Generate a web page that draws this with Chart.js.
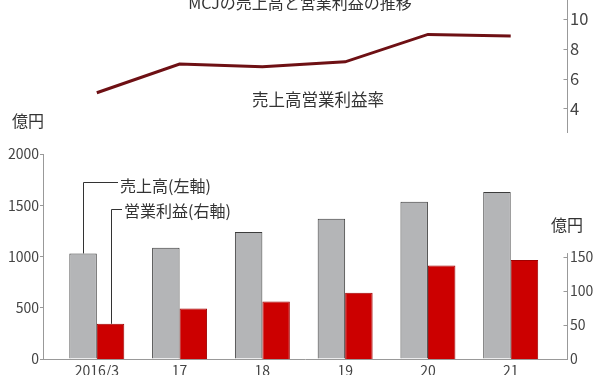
<!DOCTYPE html>
<html lang="ja">
<head>
<meta charset="utf-8">
<script src="https://cdn.jsdelivr.net/npm/chart.js@4.4.1/dist/chart.umd.min.js"></script>
<style>
  html, body { margin: 0; padding: 0; background: #fff; }
  #wrap { position: relative; width: 600px; height: 375px; overflow: hidden;
          font-family: "Noto Sans CJK JP", "Noto Sans", sans-serif; color: #333; }
  canvas { position: absolute; left: 0; top: 0; }
  .lbl { position: absolute; white-space: nowrap; font-size: 16px; line-height: 16px; }
</style>
</head>
<body>
<div id="wrap">
  <canvas id="barChart" width="600" height="375"></canvas>
  <canvas id="rateChart" width="600" height="140"></canvas>
  <div class="lbl" style="left:0; width:600px; text-align:center; top:-6px">MCJの売上高と営業利益の推移</div>
  <div class="lbl" style="left:252px; top:91px; font-size:16.5px">売上高営業利益率</div>
  <div class="lbl" style="left:12px; top:112px">億円</div>
  <div class="lbl" style="left:551px; top:216px">億円</div>
  <div class="lbl" style="left:120px; top:177px">売上高(左軸)</div>
  <div class="lbl" style="left:124px; top:202px">営業利益(右軸)</div>
</div>

<script>
// ===== data =====
const years = ["2016/3", "17", "18", "19", "20", "21"];
const sales = [1030, 1085, 1238, 1368, 1534, 1629];     // 売上高 (億円, left axis)
const profit = [51.5, 74, 84, 97, 137, 145];             // 営業利益 (億円, right axis)
const margin = [5.05, 6.98, 6.8, 7.13, 8.97, 8.86];      // 売上高営業利益率 (%)
const salesTicks = [0, 500, 1000, 1500, 2000];
const profitTicks = [0, 50, 100, 150];
const marginTicks = [4, 6, 8, 10];

const FAMILY = '"Noto Sans CJK JP", "Noto Sans", sans-serif';
const FONT = { family: FAMILY, size: 14 };
const TXT = "#444";
const AXIS = "#999";

const xy = (arr) => arr.map((v, i) => ({ x: i, y: v }));
const fixTicks = (list) => (s) => { s.ticks = list.map((v) => ({ value: v })); };
const plain = (v) => String(v);
// keep the plot area exactly where layout padding puts it
const fitWidth = (w) => (s) => { s.width = w; s.paddingTop = 0; s.paddingBottom = 0; };

// shared x scale so both charts line up
function xScale(show) {
  return {
    type: "linear",
    offset: false,
    min: -0.65,
    max: 5.68,
    display: show,
    afterBuildTicks: fixTicks(years.map((_, i) => i)),
    ticks: { callback: (v) => years[v], color: TXT, font: FONT, padding: 3, maxRotation: 0, autoSkip: false },
    grid: { display: false, drawTicks: false },
    border: { color: AXIS },
    afterFit: (s) => { s.height = show ? 16 : 0; }
  };
}

// right-hand axes: tick marks point inward, line may stop short of the top
function innerAxis(scaleId, from, to) {
  return {
    id: "innerAxis_" + scaleId,
    afterDraw(chart) {
      const s = chart.scales[scaleId];
      const ctx = chart.ctx;
      const x = s.left + 0.5;
      ctx.save();
      ctx.strokeStyle = AXIS;
      ctx.lineWidth = 1;
      ctx.beginPath();
      ctx.moveTo(x, s.getPixelForValue(from));
      ctx.lineTo(x, s.getPixelForValue(to));
      s.ticks.forEach((t) => {
        const y = Math.round(s.getPixelForValue(t.value)) + 0.5;
        ctx.moveTo(x - 4, y);
        ctx.lineTo(x, y);
      });
      ctx.stroke();
      ctx.restore();
    }
  };
}

// leader lines from the first pair of bars to their labels
const leaders = {
  id: "leaders",
  afterDatasetsDraw(chart) {
    const ctx = chart.ctx;
    const g = chart.getDatasetMeta(0).data[0];
    const r = chart.getDatasetMeta(1).data[0];
    ctx.save();
    ctx.strokeStyle = "#333";
    ctx.lineWidth = 1;
    ctx.beginPath();
    const gx = Math.round(g.x) + 0.5, rx = Math.round(r.x) + 0.5;
    ctx.moveTo(gx, g.y);
    ctx.lineTo(gx, 182.5);
    ctx.lineTo(118, 182.5);
    ctx.moveTo(rx, r.y);
    ctx.lineTo(rx, 209.5);
    ctx.lineTo(122, 209.5);
    ctx.stroke();
    ctx.restore();
  }
};

// ===== bar chart =====
new Chart(document.getElementById("barChart"), {
  type: "bar",
  data: {
    datasets: [
      {
        label: "売上高(左軸)",
        data: xy(sales),
        yAxisID: "y",
        backgroundColor: "#b4b5b7",
        borderColor: "#3c3c3c",
        borderWidth: 1
      },
      {
        label: "営業利益(右軸)",
        data: xy(profit),
        yAxisID: "y2",
        backgroundColor: "#cc0000",
        borderColor: "#a00000",
        borderWidth: 1
      }
    ]
  },
  options: {
    responsive: false,
    animation: false,
    categoryPercentage: 0.664,
    barPercentage: 1,
    layout: { padding: { top: 154 } },
    plugins: { legend: { display: false }, tooltip: { enabled: false } },
    scales: {
      x: xScale(true),
      y: {
        position: "left",
        min: 0,
        max: 2000,
        afterBuildTicks: fixTicks(salesTicks),
        ticks: { color: TXT, font: FONT, padding: 1, callback: plain },
        grid: { drawOnChartArea: false, tickLength: 3, color: AXIS },
        border: { color: AXIS },
        afterFit: fitWidth(43)
      },
      y2: {
        position: "right",
        min: 0,
        max: 300,
        afterBuildTicks: fixTicks(profitTicks),
        ticks: { color: TXT, font: FONT, padding: 3, callback: plain },
        grid: { display: false, drawTicks: false },
        border: { display: false },
        afterFit: fitWidth(33)
      }
    }
  },
  plugins: [leaders, innerAxis("y2", 0, 155)]
});

// ===== margin line (top) =====
new Chart(document.getElementById("rateChart"), {
  type: "line",
  data: {
    datasets: [{
      label: "売上高営業利益率",
      data: xy(margin),
      borderColor: "#6e1014",
      borderWidth: 3,
      pointRadius: 0,
      tension: 0
    }]
  },
  options: {
    responsive: false,
    animation: false,
    layout: { padding: { left: 43, top: 0, bottom: 7 } },
    plugins: { legend: { display: false }, tooltip: { enabled: false } },
    scales: {
      x: xScale(false),
      y: {
        position: "right",
        min: 2.35,
        max: 11.28,
        afterBuildTicks: fixTicks(marginTicks),
        ticks: { color: TXT, font: { family: FAMILY, size: 16.5 }, padding: 3, callback: plain },
        grid: { display: false, drawTicks: false },
        border: { display: false },
        afterFit: fitWidth(33)
      }
    }
  },
  plugins: [innerAxis("y", 2.35, 11.28)]
});
</script>
</body>
</html>
